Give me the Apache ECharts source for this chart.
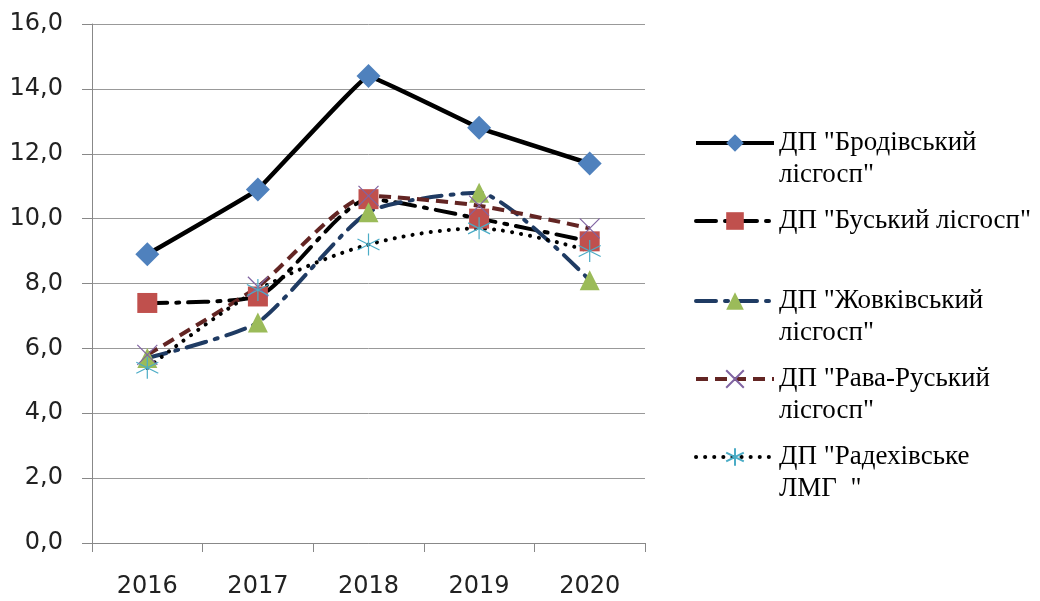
<!DOCTYPE html>
<html>
<head>
<meta charset="utf-8">
<script src="https://cdn.jsdelivr.net/npm/echarts@6/dist/echarts.min.js"></script>
<style>
html, body { margin: 0; padding: 0; background: #fff; }
#chart { width: 1040px; height: 601px; }
</style>
</head>
<body>
<div id="chart"></div>
<script>
var years = ['2016', '2017', '2018', '2019', '2020'];
var names = [
    'ДП "Бродівський\nлісгосп"',
    'ДП "Буський лісгосп"',
    'ДП "Жовківський\nлісгосп"',
    'ДП "Рава-Руський\nлісгосп"',
    'ДП "Радехівське\nЛМГ  "'
];
var brody = [8.9, 10.9, 14.4, 12.8, 11.7];
var busk = [7.4, 7.6, 10.6, 10.0, 9.3];
var zhovkva = [5.7, 6.8, 10.2, 10.8, 8.1];
var rava = [5.8, 7.9, 10.7, 10.4, 9.7];
var radekhiv = [5.4, 7.8, 9.2, 9.7, 9.0];

var chart = echarts.init(document.getElementById('chart'));

var xPath = 'path://M0 0 L10 10 M10 0 L0 10';
var starPath = 'path://M5 0 L5 10 M0 2.5 L10 7.5 M0 7.5 L10 2.5';
var serif = 'Liberation Serif';

// one legend per entry so the uneven spacing of the original can be kept;
// two-line names get an empty line on top so the icon sits on the first line
function legendFor(i, iconY) {
    var twoLines = names[i].indexOf('\n') >= 0;
    return {
        data: [{ name: names[i], textStyle: { fontFamily: serif } }],
        left: 694,
        top: twoLines ? iconY - 48 : iconY - 16,
        itemWidth: 78,
        itemHeight: 22,
        itemGap: 0,
        padding: 0,
        formatter: function (n) { return twoLines ? ' \n' + n : n; },
        lineStyle: { width: 4 },
        textStyle: {
            fontFamily: serif,
            fontSize: 27,
            color: '#000',
            lineHeight: 32
        }
    };
}

var option = {
    animation: false,
    backgroundColor: '#fff',
    textStyle: { fontFamily: serif },
    grid: { left: 92, right: 395, top: 24, bottom: 58 },
    legend: [
        legendFor(0, 143),
        legendFor(1, 221),
        legendFor(2, 301),
        legendFor(3, 379),
        legendFor(4, 457)
    ],
    xAxis: {
        type: 'category',
        data: years,
        boundaryGap: true,
        axisLine: { lineStyle: { color: '#888', width: 1 } },
        axisTick: { show: true, length: 9, interval: 0, lineStyle: { color: '#888' } },
        axisLabel: { margin: 32, fontFamily: 'DejaVu Sans', fontSize: 24, color: '#222' }
    },
    yAxis: {
        type: 'value',
        min: 0,
        max: 16,
        interval: 2,
        axisLine: { show: true, lineStyle: { color: '#888', width: 1 } },
        axisTick: { show: true, length: 10, lineStyle: { color: '#888' } },
        splitLine: { lineStyle: { color: '#999', width: 1 } },
        axisLabel: {
            margin: 29,
            fontFamily: 'DejaVu Sans',
            fontSize: 24,
            color: '#222',
            formatter: function (v) { return v.toFixed(1).replace('.', ','); }
        }
    },
    series: [
        {
            name: names[1],
            type: 'line',
            data: busk,
            smooth: 0.2,
            symbol: 'rect',
            symbolSize: 20,
            itemStyle: { color: '#C0504D' },
            lineStyle: { color: '#000', width: 4, type: [20, 9, 3, 9], cap: 'round' }
        },
        {
            name: names[2],
            type: 'line',
            data: zhovkva,
            smooth: 0.2,
            symbol: 'triangle',
            symbolSize: 20,
            itemStyle: { color: '#9BBB59' },
            lineStyle: { color: '#1F3B63', width: 4, type: [20, 9, 3, 9], cap: 'round' }
        },
        {
            name: names[3],
            type: 'line',
            data: rava,
            smooth: 0.2,
            symbol: xPath,
            symbolSize: 20,
            itemStyle: { color: 'transparent', borderColor: '#8064A2', borderWidth: 1.2 },
            lineStyle: { color: '#632523', width: 4, type: [12, 7] }
        },
        {
            name: names[4],
            type: 'line',
            data: radekhiv,
            smooth: 0.3,
            symbol: starPath,
            symbolSize: 22,
            itemStyle: { color: 'transparent', borderColor: '#4BACC6', borderWidth: 1.2 },
            lineStyle: { color: '#000', width: 4, type: [0.1, 9], cap: 'round' }
        },
        {
            name: names[0],
            type: 'line',
            data: brody,
            smooth: 0.05,
            symbol: 'diamond',
            symbolSize: 24,
            itemStyle: { color: '#4F81BD' },
            lineStyle: { color: '#000', width: 4.5 }
        }
    ]
};

chart.setOption(option);
</script>
</body>
</html>
